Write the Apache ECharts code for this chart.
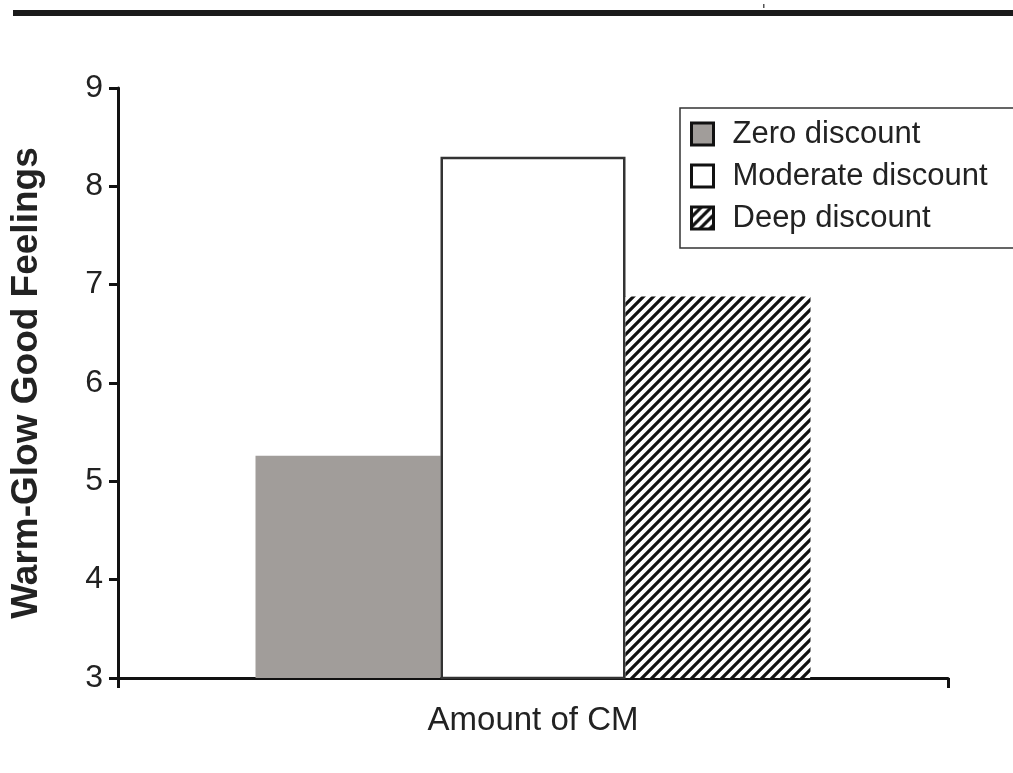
<!DOCTYPE html>
<html>
<head>
<meta charset="utf-8">
<script src="https://cdn.jsdelivr.net/npm/echarts@6/dist/echarts.min.js"></script>
<style>
html,body{margin:0;padding:0;background:#fff;}
#chart{width:1013px;height:773px;}
</style>
</head>
<body>
<div id="chart"></div>
<script>
const categories = ["Amount of CM"];
const seriesNames = ["Zero discount", "Moderate discount", "Deep discount"];
const zeroValues = [5.26];
const moderateValues = [8.30];
const deepValues = [6.88];
const yTicks = [3, 4, 5, 6, 7, 8, 9];

function makeHatch() {
  const c = document.createElement('canvas');
  c.width = 10; c.height = 10;
  const g = c.getContext('2d');
  g.fillStyle = '#fff';
  g.fillRect(0, 0, 10, 10);
  g.strokeStyle = '#111';
  g.lineWidth = 3.2;
  g.beginPath();
  g.moveTo(-2, 12); g.lineTo(12, -2);
  g.moveTo(-7, 7); g.lineTo(7, -7);
  g.moveTo(3, 17); g.lineTo(17, 3);
  g.stroke();
  return c;
}
const hatch = makeHatch();

const font = '"Liberation Sans", Arial, sans-serif';
const chart = echarts.init(document.getElementById('chart'));
chart.setOption({
  animation: false,
  textStyle: { fontFamily: font },
  grid: { left: 115, right: 65, top: 88, bottom: 95 },
  legend: {
    orient: 'vertical',
    left: 680, top: 108,
    data: seriesNames,
    itemWidth: 22, itemHeight: 22,
    itemGap: 10,
    padding: [10, 30, 14, 10],
    borderColor: '#333', borderWidth: 1.5,
    icon: 'rect',
    itemStyle: { borderColor: '#111', borderWidth: 3 },
    textStyle: { fontFamily: font, fontSize: 31, lineHeight: 32, color: '#222', padding: [0, 0, 0, 14] }
  },
  xAxis: {
    type: 'category',
    data: categories,
    boundaryGap: true,
    axisLine: { lineStyle: { color: '#111', width: 3 } },
    axisTick: { show: true, inside: false, length: 10, lineStyle: { color: '#111', width: 3 } },
    axisLabel: { fontFamily: font, fontSize: 33, color: '#222', margin: 26 }
  },
  yAxis: {
    type: 'value',
    min: yTicks[0], max: yTicks[yTicks.length - 1], interval: 1,
    name: 'Warm-Glow Good Feelings',
    nameLocation: 'middle',
    nameGap: 73,
    nameTextStyle: { fontFamily: font, fontSize: 37, fontWeight: 'bold', color: '#222' },
    axisLine: { show: true, lineStyle: { color: '#111', width: 3 } },
    axisTick: { show: true, length: 9, lineStyle: { color: '#111', width: 3 } },
    splitLine: { show: false },
    axisLabel: { fontFamily: font, fontSize: 32, color: '#222', margin: 15 }
  },
  series: [
    {
      name: seriesNames[0], type: 'bar', data: zeroValues,
      barWidth: 185, barGap: '0%',
      itemStyle: { color: '#a19d9a', borderWidth: 0 }
    },
    {
      name: seriesNames[1], type: 'bar', data: moderateValues,
      barWidth: 185, barGap: '0%',
      itemStyle: { color: '#ffffff', borderColor: '#333', borderWidth: 2.5 }
    },
    {
      name: seriesNames[2], type: 'bar', data: deepValues,
      barWidth: 185, barGap: '0%',
      itemStyle: { color: { image: hatch, repeat: 'repeat' }, borderWidth: 0 }
    }
  ],
  graphic: [
    { type: 'rect', shape: { x: 13, y: 10, width: 1000, height: 6 }, style: { fill: '#1a1a1a' } },
    { type: 'rect', shape: { x: 763, y: 4, width: 1.5, height: 4 }, style: { fill: '#555' } }
  ]
});
</script>
</body>
</html>
